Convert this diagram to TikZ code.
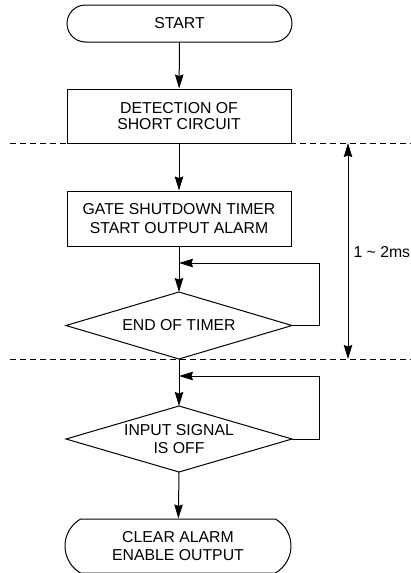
\documentclass[tikz,border=0pt]{standalone}
\usepackage{fontspec}
\setmainfont{Liberation Sans}
\usetikzlibrary{shapes.misc,arrows.meta}
\begin{document}
\begin{tikzpicture}[x=1pt,y=-1pt,
  font=\fontsize{15.8pt}{18.5pt}\selectfont,
  every path/.style={line width=1pt},
  term/.style={draw,rounded rectangle,minimum width=225pt,inner sep=0pt,align=center},
  proc/.style={draw,rectangle,minimum width=224pt,inner sep=0pt,align=center},
  dectext/.style={inner sep=0pt,align=center},
  tip/.tip={Stealth[length=14pt,width=8.5pt,inset=1.5pt]},
  arr/.style={-tip},
  dashline/.style={dash pattern=on 6pt off 4pt}]
\useasboundingbox (0,0) rectangle (411,573);
\node[term,minimum height=37pt] (start) at (179.5,23.5) {START};
\node[proc,minimum height=54pt,font=\fontsize{15.8pt}{16pt}\selectfont] (det) at (179,116) {DETECTION OF\\SHORT CIRCUIT};
\node[proc,minimum height=55pt] (gate) at (179,218.5) {GATE SHUTDOWN TIMER\\START OUTPUT ALARM};
% diamond 1
\coordinate (d1n) at (179,292);
\coordinate (d1s) at (179,359);
\coordinate (d1w) at (66,325.5);
\coordinate (d1e) at (292,325.5);
\draw (d1n) -- (d1e) -- (d1s) -- (d1w) -- cycle;
\node[dectext] (d1) at (179,325.5) {END OF TIMER};
% diamond 2
\coordinate (d2n) at (179,406);
\coordinate (d2s) at (179,472);
\coordinate (d2w) at (66,439);
\coordinate (d2e) at (292,439);
\draw (d2n) -- (d2e) -- (d2s) -- (d2w) -- cycle;
\node[dectext] (d2) at (179,439) {INPUT SIGNAL\\IS OFF};
\node[term,rounded rectangle arc length=120,minimum width=226pt,minimum height=54pt] (end) at (178,546) {CLEAR ALARM\\ENABLE OUTPUT};
\coordinate (j1) at (179,263);
\coordinate (j2) at (179,376);
\coordinate (c1) at (319,325.5);
\coordinate (c2) at (319,439);
\coordinate (l1) at (10,143);
\coordinate (r1) at (411,143);
\coordinate (l2) at (10,359);
\coordinate (r2) at (411,359);
\coordinate (ta) at (348,143);
\coordinate (tb) at (348,359);
\draw[arr] (start) -- (det);
\draw[arr] (det) -- (gate);
\draw[arr] (gate) -- (d1n);
\draw[arr] (d1e) -- (c1) |- (j1);
\draw[arr] (d1s) -- (d2n);
\draw[arr] (d2e) -- (c2) |- (j2);
\draw[arr] (d2s) -- (end);
\draw[dashline] (l1) -- (r1);
\draw[dashline] (l2) -- (r2);
\draw[tip-tip] (ta) -- (tb);
\node[anchor=west,inner sep=0pt] (lab) at (353,252) {1 \textasciitilde{} 2ms};
\end{tikzpicture}
\end{document}
